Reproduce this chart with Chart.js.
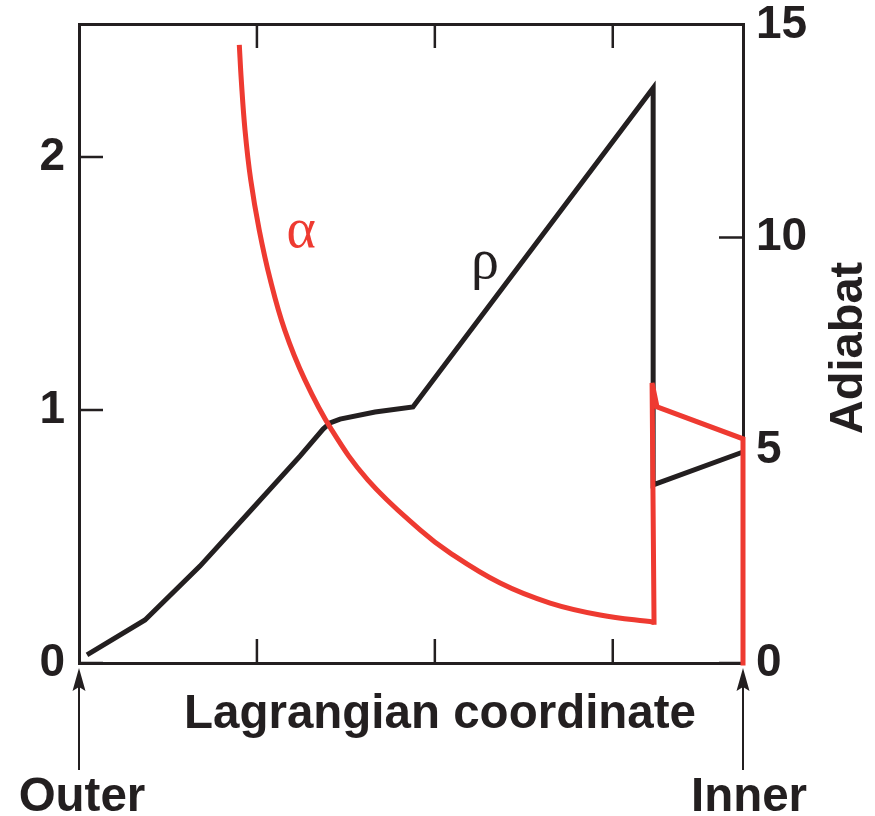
<!DOCTYPE html>
<html>
<head>
<meta charset="utf-8">
<script src="https://cdn.jsdelivr.net/npm/chart.js@4.4.1/dist/chart.umd.min.js"></script>
<style>
html,body{margin:0;padding:0;background:#ffffff;}
canvas{display:block;}
</style>
</head>
<body>
<canvas id="c" width="875" height="816" style="width:875px;height:816px"></canvas>
<script>
// ---- axis ranges & ticks ----
const xRange = [0, 3.732];
const leftRange = [0, 2.526];
const rightRange = [0, 15.02];
const xTicks = [1, 2, 3];
const leftTicks = [0, 1, 2];
const rightTicks = [0, 5, 10, 15];
const rightTickMarks = [0, 10, 15];

// ---- rho (left axis) ----
const rhoX = [0.045, 0.371, 0.680, 0.961, 1.242, 1.372, 1.411, 1.467, 1.664, 1.877, 3.227, 3.227, 3.732];
const rhoY = [0.032, 0.170, 0.383, 0.600, 0.818, 0.925, 0.949, 0.964, 0.992, 1.012, 2.273, 0.704, 0.834];

// ---- alpha (right axis, adiabat) smooth part ----
const alphaX = [0.901, 0.912, 0.933, 0.965, 1.013, 1.075, 1.156, 1.269, 1.420, 1.624, 1.917, 2.085, 2.367, 2.648, 2.929, 3.232];
const alphaY = [14.53, 13.71, 12.53, 11.36, 10.18, 9.01, 7.83, 6.66, 5.48, 4.30, 3.13, 2.59, 1.88, 1.41, 1.13, 0.96];

// ---- alpha jump part ----
const alphaJumpX = [3.232, 3.221, 3.249, 3.732, 3.732];
const alphaJumpY = [0.96, 6.58, 6.02, 5.27, 0];

// ---- labels ----
const xTitle = 'Lagrangian coordinate';
const yRightTitle = 'Adiabat';
const outerLabel = 'Outer';
const innerLabel = 'Inner';
const alphaLabel = 'α';
const rhoLabel = 'ρ';

const INK = '#231f20';
const RED = '#ee3a31';
const SANS = '"Liberation Sans", Arial, Helvetica, sans-serif';
const SERIF = '"Liberation Serif", "Times New Roman", serif';

const pts = (xs, ys) => xs.map((x, i) => ({x: x, y: ys[i]}));
const noPad = s => { s.paddingTop = 0; s.paddingBottom = 0; s.paddingLeft = 0; s.paddingRight = 0; };

const decor = {
  id: 'decor',
  beforeDatasetsDraw(chart) {
    const {ctx, chartArea: a, scales} = chart;
    const L = 24;
    ctx.save();
    ctx.strokeStyle = INK;
    ctx.lineWidth = 2.5;
    ctx.beginPath();
    xTicks.forEach(v => {
      const px = scales.x.getPixelForValue(v);
      ctx.moveTo(px, a.bottom); ctx.lineTo(px, a.bottom - L);
      ctx.moveTo(px, a.top); ctx.lineTo(px, a.top + L);
    });
    leftTicks.forEach(v => {
      const py = scales.y.getPixelForValue(v);
      ctx.moveTo(a.left, py); ctx.lineTo(a.left + L, py);
    });
    rightTickMarks.forEach(v => {
      const py = scales.y2.getPixelForValue(v);
      ctx.moveTo(a.right, py); ctx.lineTo(a.right - L, py);
    });
    ctx.stroke();
    ctx.restore();
  },
  afterDraw(chart) {
    const {ctx, chartArea: a, scales} = chart;
    ctx.save();
    // Greek labels
    ctx.textAlign = 'center';
    ctx.textBaseline = 'alphabetic';
    ctx.font = '56px ' + SERIF;
    ctx.fillStyle = RED;
    ctx.fillText(alphaLabel, scales.x.getPixelForValue(1.248), scales.y2.getPixelForValue(9.78));
    ctx.fillStyle = INK;
    ctx.fillText(rhoLabel, scales.x.getPixelForValue(2.282), scales.y.getPixelForValue(1.522));

    // x title
    ctx.font = 'bold 47.5px ' + SANS;
    ctx.fillStyle = INK;
    ctx.fillText(xTitle, 440, 728);
    // Outer / Inner
    ctx.fillText(outerLabel, a.left + 3, 811);
    ctx.fillText(innerLabel, a.right + 6, 811);

    // arrows
    ctx.strokeStyle = INK;
    ctx.fillStyle = INK;
    ctx.lineWidth = 2;
    [a.left, a.right].forEach(x => {
      const tip = a.bottom + 5;
      ctx.beginPath();
      ctx.moveTo(x, tip + 10);
      ctx.lineTo(x, 770);
      ctx.stroke();
      ctx.beginPath();
      ctx.moveTo(x, tip);
      ctx.lineTo(x - 6.5, tip + 23);
      ctx.lineTo(x, tip + 19);
      ctx.lineTo(x + 6.5, tip + 23);
      ctx.closePath();
      ctx.fill();
    });

    // right axis title (reads bottom to top)
    ctx.save();
    ctx.translate(862, 348);
    ctx.rotate(-Math.PI / 2);
    ctx.textAlign = 'center';
    ctx.textBaseline = 'alphabetic';
    ctx.font = 'bold 47px ' + SANS;
    ctx.fillText(yRightTitle, 0, 0);
    ctx.restore();

    ctx.restore();
  }
};

const tickFont = {family: SANS, size: 46, weight: 'bold'};

new Chart(document.getElementById('c'), {
  type: 'line',
  data: {
    datasets: [
      {
        label: 'alpha',
        data: pts(alphaX, alphaY),
        yAxisID: 'y2',
        borderColor: RED,
        borderWidth: 5,
        tension: 0.4,
        pointRadius: 0,
        fill: false,
        clip: false
      },
      {
        label: 'alpha jump',
        data: pts(alphaJumpX, alphaJumpY),
        yAxisID: 'y2',
        borderColor: RED,
        borderWidth: 5,
        tension: 0,
        borderJoinStyle: 'miter',
        borderCapStyle: 'square',
        pointRadius: 0,
        fill: false,
        clip: false
      },
      {
        label: 'rho',
        data: pts(rhoX, rhoY),
        yAxisID: 'y',
        borderColor: INK,
        borderWidth: 5,
        tension: 0,
        borderJoinStyle: 'miter',
        pointRadius: 0,
        fill: false,
        clip: false
      }
    ]
  },
  options: {
    responsive: false,
    maintainAspectRatio: false,
    animation: false,
    devicePixelRatio: 1,
    layout: {padding: 0},
    plugins: {legend: {display: false}, tooltip: {enabled: false}, title: {display: false}},
    scales: {
      x: {
        type: 'linear',
        position: 'bottom',
        min: xRange[0], max: xRange[1],
        afterBuildTicks: s => { s.ticks = xTicks.map(v => ({value: v})); },
        afterFit: s => { s.height = 153; noPad(s); },
        ticks: {display: false},
        grid: {display: false, drawTicks: false},
        border: {display: true, color: INK, width: 3}
      },
      x2: {
        type: 'linear',
        position: 'top',
        min: xRange[0], max: xRange[1],
        afterBuildTicks: s => { s.ticks = xTicks.map(v => ({value: v})); },
        afterFit: s => { s.height = 24; noPad(s); },
        ticks: {display: false},
        grid: {display: false, drawTicks: false},
        border: {display: true, color: INK, width: 3}
      },
      y: {
        type: 'linear',
        position: 'left',
        min: leftRange[0], max: leftRange[1],
        afterBuildTicks: s => { s.ticks = leftTicks.map(v => ({value: v})); },
        afterFit: s => { s.width = 79; noPad(s); },
        ticks: {font: tickFont, color: INK, padding: 14, callback: v => String(v)},
        grid: {display: false, drawTicks: false},
        border: {display: true, color: INK, width: 3}
      },
      y2: {
        type: 'linear',
        position: 'right',
        min: rightRange[0], max: rightRange[1],
        afterBuildTicks: s => { s.ticks = rightTicks.map(v => ({value: v})); },
        afterFit: s => { s.width = 132; noPad(s); },
        ticks: {font: tickFont, color: INK, padding: 13, callback: v => String(v)},
        grid: {display: false, drawTicks: false},
        border: {display: true, color: INK, width: 3}
      }
    }
  },
  plugins: [decor]
});
</script>
</body>
</html>
